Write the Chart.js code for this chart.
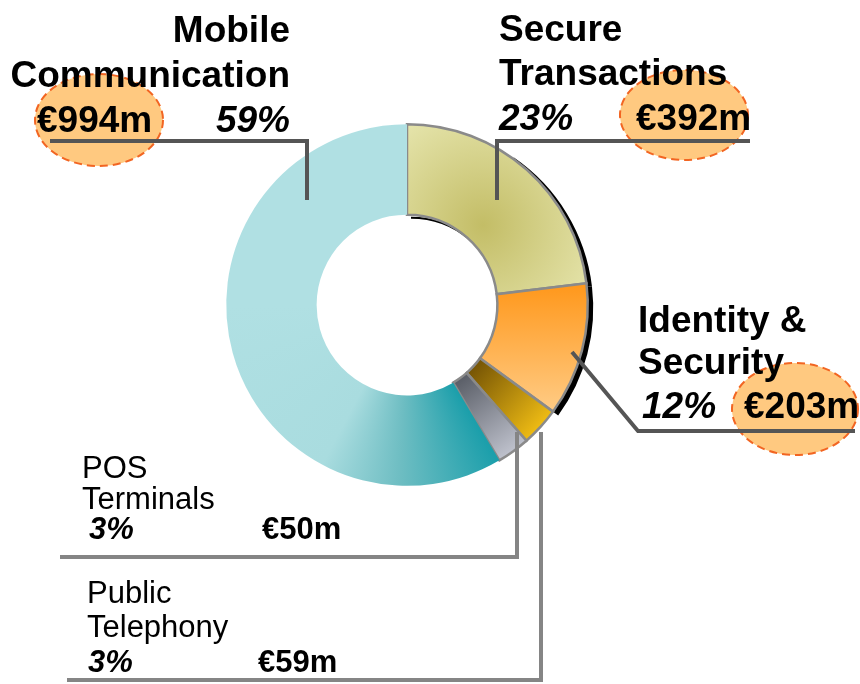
<!DOCTYPE html>
<html>
<head>
<meta charset="utf-8">
<script src="https://cdn.jsdelivr.net/npm/chart.js@4.4.1/dist/chart.umd.min.js"></script>
<style>
  html, body { margin: 0; padding: 0; background: #fff; }
  #wrap { width: 860px; height: 684px; }
</style>
</head>
<body>
<div id="wrap"><canvas id="chart" width="860" height="684"></canvas></div>
<script>
// Datos del gráfico (sentido horario desde arriba)
const categories = ['Secure\nTransactions', 'Identity &\nSecurity', 'Public\nTelephony', 'POS\nTerminals', 'Mobile\nCommunication'];
const revenues = [392, 203, 59, 50, 994]; // €m
const total = revenues.reduce((a, b) => a + b, 0);
const percentLabels = revenues.map(v => Math.round(v / total * 100) + '%');
const valueLabels = revenues.map(v => '€' + v + 'm');

// Posición de las etiquetas y líneas guía
const annotations = [
  { // Secure Transactions
    big: true, nameX: 499, nameY: [41, 85], align: 'left',
    pctX: 499, pctY: 130, valX: 636, valY: 130,
    ellipse: [684, 115, 64, 45],
    line: [[497, 200], [497, 141], [750, 141]], lineColor: '#555555'
  },
  { // Identity & Security
    big: true, nameX: 638, nameY: [332, 374], align: 'left',
    pctX: 642, pctY: 418, valX: 744, valY: 418,
    ellipse: [795, 409, 63, 46],
    line: [[572, 352], [638, 431], [855, 431]], lineColor: '#555555'
  },
  { // Public Telephony
    big: false, nameX: 87, nameY: [603, 637], align: 'left',
    pctX: 88, pctY: 672, valX: 258, valY: 672,
    line: [[541, 432], [541, 680], [67, 680]], lineColor: '#858585'
  },
  { // POS Terminals
    big: false, nameX: 82, nameY: [478, 509], align: 'left',
    pctX: 89, pctY: 539, valX: 262, valY: 539,
    line: [[517, 432], [517, 557], [60, 557]], lineColor: '#858585'
  },
  { // Mobile Communication
    big: true, nameX: 290, nameY: [42, 87], align: 'right',
    pctX: 290, pctY: 132, valX: 37, valY: 132, pctAlign: 'right',
    ellipse: [99, 120, 64, 46],
    line: [[50, 141], [307, 141], [307, 200]], lineColor: '#555555'
  }
];

const FONT = '"Liberation Sans", Arial, sans-serif';

function center(chart) {
  const a = chart.chartArea;
  return { x: (a.left + a.right) / 2, y: (a.top + a.bottom) / 2 };
}

// Rellenos con degradado por segmento
function segmentFill(context) {
  const chart = context.chart;
  const ctx = chart.ctx;
  if (!chart.chartArea) return '#ccc';
  const c = center(chart);
  let g;
  switch (context.dataIndex) {
    case 0:
      g = ctx.createRadialGradient(c.x + 76, c.y - 80, 0, c.x + 76, c.y - 80, 125);
      g.addColorStop(0, '#c3bd66');
      g.addColorStop(1, '#e5e4ab');
      return g;
    case 1:
      g = ctx.createLinearGradient(0, c.y - 22, 0, c.y + 105);
      g.addColorStop(0, '#ff971a');
      g.addColorStop(1, '#ffcb84');
      return g;
    case 2:
      g = ctx.createLinearGradient(c.x + 66, c.y + 60, c.x + 135, c.y + 122);
      g.addColorStop(0, '#745305');
      g.addColorStop(1, '#f0bd14');
      return g;
    case 3:
      g = ctx.createLinearGradient(c.x + 48, c.y + 75, c.x + 100, c.y + 148);
      g.addColorStop(0, '#585c65');
      g.addColorStop(1, '#bcbfca');
      return g;
    default:
      g = ctx.createConicGradient(0, c.x, c.y);
      g.addColorStop(0, '#1a9eaa');
      g.addColorStop(60 / 360, '#1c9fab');
      g.addColorStop(92 / 360, '#6dbdc2');
      g.addColorStop(118 / 360, '#a9dcdf');
      g.addColorStop(180 / 360, '#b0e0e3');
      g.addColorStop(1, '#b0e0e3');
      return g;
  }
}

// Sombra negra sobre el borde exterior de los dos primeros segmentos
const shadowPlugin = {
  id: 'arcShadow',
  beforeDatasetsDraw(chart) {
    const ctx = chart.ctx;
    const arcs = chart.getDatasetMeta(0).data;
    ctx.save();
    ctx.translate(4, 3);
    ctx.fillStyle = '#000';
    [0, 1].forEach(i => {
      const a = arcs[i];
      const start = i === 0 ? a.startAngle + 0.6 : a.startAngle;
      ctx.beginPath();
      ctx.arc(a.x, a.y, a.outerRadius + 1.5, start, a.endAngle);
      ctx.arc(a.x, a.y, a.innerRadius, a.endAngle, start, true);
      ctx.closePath();
      ctx.fill();
    });
    // línea interior bajo el borde del primer segmento
    const a0 = arcs[0];
    ctx.beginPath();
    ctx.arc(a0.x, a0.y, a0.innerRadius, a0.startAngle, a0.startAngle + 0.7);
    ctx.lineWidth = 2;
    ctx.strokeStyle = '#000';
    ctx.stroke();
    ctx.restore();
  }
};

// Etiquetas, elipses y líneas guía
const labelPlugin = {
  id: 'sideLabels',
  afterDraw(chart) {
    const ctx = chart.ctx;
    ctx.save();
    annotations.forEach(an => {
      if (!an.ellipse) return;
      const [x, y, rx, ry] = an.ellipse;
      ctx.beginPath();
      ctx.ellipse(x, y, rx, ry, 0, 0, Math.PI * 2);
      ctx.fillStyle = '#ffc980';
      ctx.fill();
      ctx.setLineDash([8, 5]);
      ctx.lineWidth = 2;
      ctx.strokeStyle = '#f26522';
      ctx.stroke();
      ctx.setLineDash([]);
    });
    annotations.forEach(an => {
      ctx.beginPath();
      an.line.forEach(([x, y], k) => (k ? ctx.lineTo(x, y) : ctx.moveTo(x, y)));
      ctx.lineWidth = 4;
      ctx.lineJoin = 'miter';
      ctx.strokeStyle = an.lineColor;
      ctx.stroke();
    });
    ctx.fillStyle = '#000';
    ctx.textBaseline = 'alphabetic';
    annotations.forEach((an, i) => {
      const size = an.big ? 37 : 31;
      ctx.font = (an.big ? 'bold ' : '') + size + 'px ' + FONT;
      ctx.textAlign = an.align;
      categories[i].split('\n').forEach((t, k) => ctx.fillText(t, an.nameX, an.nameY[k]));
      ctx.font = 'italic bold ' + size + 'px ' + FONT;
      ctx.textAlign = an.pctAlign || 'left';
      ctx.fillText(percentLabels[i], an.pctX, an.pctY);
      ctx.font = 'bold ' + size + 'px ' + FONT;
      ctx.textAlign = 'left';
      ctx.fillText(valueLabels[i], an.valX, an.valY);
    });
    ctx.restore();
  }
};

new Chart(document.getElementById('chart'), {
  type: 'doughnut',
  data: {
    labels: categories,
    datasets: [{
      data: revenues,
      backgroundColor: segmentFill,
      borderColor: '#8a8a8a',
      borderWidth: [2.5, 2.5, 2.5, 2.5, 0],
      hoverBorderWidth: [2.5, 2.5, 2.5, 2.5, 0],
      hoverOffset: 0,
      borderJoinStyle: 'miter'
    }]
  },
  options: {
    responsive: false,
    animation: false,
    cutout: '50%',
    layout: { padding: { left: 225, right: 271, top: 123, bottom: 197 } },
    plugins: { legend: { display: false }, tooltip: { enabled: false } },
    events: []
  },
  plugins: [shadowPlugin, labelPlugin]
});
</script>
</body>
</html>
